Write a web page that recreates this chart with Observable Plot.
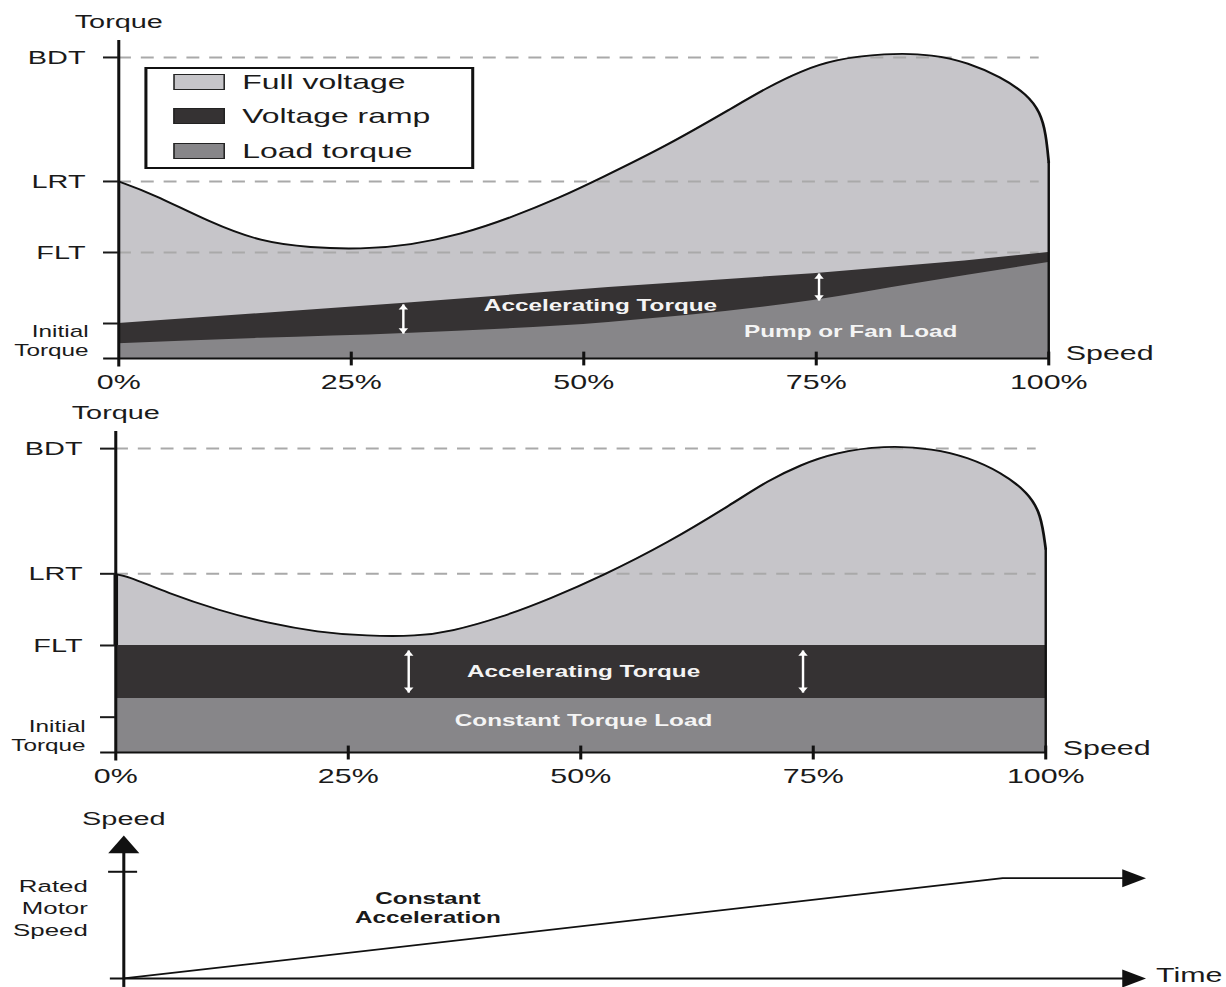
<!DOCTYPE html>
<html>
<head>
<meta charset="utf-8">
<script src="https://cdn.jsdelivr.net/npm/d3@7"></script>
<script src="https://cdn.jsdelivr.net/npm/@observablehq/plot@0.6"></script>
<style>
  html, body { margin: 0; padding: 0; background: #fff; overflow: hidden; width: 1226px; height: 987px; }
  #root { position: relative; width: 1226px; height: 987px; overflow: hidden; background: #fff; }
  .panel { position: absolute; left: 0; transform-origin: 0 0; }
  .legend { position: absolute; box-sizing: border-box; border: 2.5px solid #111; background: #fff;
            font-family: "Liberation Sans", Arial, sans-serif; color: #1a1a1a; }
  .legend .item { position: absolute; left: 0; height: 24px; width: 100%; }
  .legend .sw { position: absolute; top: 4px; height: 16px; box-sizing: border-box; border: 1.5px solid #222; }
  .legend .lbl { position: absolute; top: 0; font-size: 21px; line-height: 24px; white-space: nowrap; }
</style>
</head>
<body>
<div id="root"></div>
<script>
// ---------- data ----------
const speedTicks = [0, 25, 50, 75, 100];              // % of synchronous speed
const levelNames = ["BDT", "LRT", "FLT"];
const levelValues = [284, 167, 100];                   // torque, % of full-load torque
const initialName = "Initial\nTorque";
const initialValue = 33;

const seriesNames = ["Full voltage", "Voltage ramp", "Load torque"];
const seriesColors = ["#c6c5c9", "#353233", "#878689"];

// top panel: pump / fan load  [speed %, torque %]
const fullVoltagePump = [[0,167],[3.5,156],[9.9,128],[15.3,110],[20.6,104.5],[26,103],[31.4,107],
  [36.8,117],[42.2,133],[47.5,152],[51.8,170],[59,201],[66.1,237],[69.8,256],[73.3,271],[76.9,282],
  [82.3,288],[87.7,287],[91.3,279],[94.8,266],[97.7,249],[99.1,232],[99.7,212],[100,185]];
const voltageRampPump = [[0,33],[30.8,52],[52.7,67],[74.7,80],[91,92],[100,100]];
const loadPump = [[0,14],[15.3,19],[30.8,23.6],[52.7,34],[74.7,54.7],[85.8,70.8],[100,90.6]];
const labelsPump = [["Accelerating Torque", 51.8, 50], ["Pump or Fan Load", 78.7, 25.5]];
const arrowsPump = [[30.6, 23.6, 51], [75.3, 54.7, 80.2]];

// middle panel: constant torque load
const fullVoltageConst = [[0,166.4],[1.1,165.4],[5.6,149],[11,133],[16.3,121],[21.7,112.5],
  [27,108.8],[32.4,108.6],[36,113],[41.4,126],[46.8,144],[52.2,164.5],[59.4,196],[66.5,233.6],
  [70.1,254],[73.7,269],[77.2,280],[82.6,287],[88,284],[91.6,276],[95.2,262],[98.1,243],[99.5,223],
  [100,190]];
const voltageRampConst = [[0,100],[100,100]];
const loadConst = [[0,50.5],[100,50.5]];
const labelsConst = [["Accelerating Torque", 50.3, 75.7], ["Constant Torque Load", 50.3, 30]];
const arrowsConst = [[31.5, 56, 95.3], [73.9, 56, 95.3]];

// bottom panel: speed vs time  [time, speed %]
const timeSpeed = [[0,0],[1,94],[1.14,94]];
const ratedSpeed = 100;
const timeArrowTip = 1.163;
const speedArrowTip = 134;
const speedLabel = "Rated\nMotor\nSpeed";
const accelLabel = [["Constant\nAcceleration", 0.346, 67]];

// ---------- helpers ----------
const S = 1.52;                 // horizontal stretch of the original artwork
const W = 1226 / S;
const FONT = "'Liberation Sans', Arial, Helvetica, sans-serif";
const pts = a => a.map(([x, y]) => ({x, y}));
const nameOf = new Map(levelValues.map((v, i) => [v, levelNames[i]]));
const root = document.getElementById("root");

function mount(svg, top, height) {
  const d = document.createElement("div");
  d.className = "panel";
  d.style.top = top + "px";
  d.style.width = W + "px";
  d.style.height = height + "px";
  d.style.transform = `scaleX(${S})`;
  d.appendChild(svg);
  root.appendChild(d);
  return d;
}

function arrowMarks(arr) {
  const a = arr.map(([x, y1, y2]) => ({x, y1, y2}));
  return [
    Plot.link(a, {x1: "x", x2: "x", y1: "y1", y2: "y2", stroke: "#fff", strokeWidth: 1.6}),
    Plot.dot(a, {x: "x", y: "y2", symbol: "triangle", r: 2.3, fill: "#fff", stroke: null, dy: 3.4}),
    Plot.dot(a, {x: "x", y: "y1", symbol: "triangle", rotate: 180, r: 2.3, fill: "#fff", stroke: null, dy: -3.4})
  ];
}

function torquePanel(o) {
  const first = o.full[0], last = o.full[o.full.length - 1];
  return Plot.plot({
    width: W, height: o.height,
    marginTop: o.mt, marginBottom: o.mb, marginLeft: o.ml / S, marginRight: o.mr / S,
    x: {domain: [0, 100], axis: null},
    y: {domain: [0, 300], axis: null},
    style: {fontFamily: FONT, color: "#1a1a1a", background: "transparent", overflow: "visible"},
    marks: [
      Plot.areaY(pts(o.full), {x: "x", y: "y", fill: seriesColors[0], curve: "basis"}),
      Plot.ruleY(o.dashed, {x1: 0, x2: 99, stroke: "#a9a9a9", strokeWidth: 2, strokeDasharray: "8.5,6.5"}),
      Plot.areaY(pts(o.ramp), {x: "x", y: "y", fill: seriesColors[1], curve: "linear"}),
      Plot.areaY(pts(o.load), {x: "x", y: "y", fill: seriesColors[2], curve: "monotone-x"}),
      Plot.line(pts(o.full), {x: "x", y: "y", stroke: "#111", strokeWidth: 1.8, curve: "basis"}),
      Plot.ruleX([last[0]], {y1: 0, y2: last[1], stroke: "#111", strokeWidth: 1.6}),
      Plot.ruleX([first[0]], {y1: o.ramp[0][1], y2: first[1], stroke: "#111", strokeWidth: o.startW}),
      Plot.text(o.labels, {x: d => d[1], y: d => d[2], text: d => d[0], fill: "#f4f4f4",
        fontWeight: "bold", fontSize: 16}),
      ...arrowMarks(o.arrows),
      // axes
      Plot.ruleX([0], {y1: -8, y2: 300, stroke: "#111", strokeWidth: 2}),
      Plot.ruleY([0], {x1: -1.6, x2: 100, stroke: "#111", strokeWidth: 2}),
      Plot.ruleX(speedTicks.slice(1), {y1: -7, y2: 6, stroke: "#111", strokeWidth: 2}),
      Plot.axisY(levelValues, {anchor: "left", tickSize: 15 / S, tickPadding: 12, fontSize: 19,
        strokeWidth: 2, tickFormat: d => nameOf.get(d), label: null}),
      Plot.axisY([initialValue], {anchor: "left", tickSize: 15 / S, strokeWidth: 2,
        tickFormat: () => "", label: null}),
      Plot.text([{x: 0, y: initialValue}], {x: "x", y: "y", text: () => initialName, textAnchor: "end",
        dx: -(15 / S + 10), dy: o.initDy, fontSize: 16, lineHeight: 1.2}),
      Plot.axisX(speedTicks, {tickSize: 0, tickPadding: 16, fontSize: 20, tickFormat: d => d + "%", label: null}),
      Plot.text([{x: 0, y: 300}], {x: "x", y: "y", text: () => "Torque", dy: -19, fontSize: 19}),
      Plot.text([{x: 100, y: 0}], {x: "x", y: "y", text: () => "Speed", dx: 17 / S, dy: o.speedDy,
        textAnchor: "start", fontSize: 20})
    ]
  });
}

// ---------- top panel ----------
const p1 = torquePanel({height: 400, mt: 40, mb: 42, ml: 118, mr: 178,
  full: fullVoltagePump, ramp: voltageRampPump, load: loadPump, startW: 0,
  dashed: levelValues, labels: labelsPump, arrows: arrowsPump, initDy: 17, speedDy: -5});
const d1 = mount(p1, 0, 400);

// legend
const lg = document.createElement("div");
lg.className = "legend";
lg.style.left = (145 / S) + "px";
lg.style.top = "67px";
lg.style.width = (330 / S) + "px";
lg.style.height = "102px";
seriesNames.forEach((name, i) => {
  const it = document.createElement("div");
  it.className = "item";
  it.style.top = (0.5 + i * 34.5) + "px";
  const sw = document.createElement("div");
  sw.className = "sw";
  sw.style.left = (29 / S - 2.5) + "px";
  sw.style.width = (52 / S) + "px";
  sw.style.background = seriesColors[i];
  const tx = document.createElement("div");
  tx.className = "lbl";
  tx.style.left = (98 / S - 2.5) + "px";
  tx.textContent = name;
  it.appendChild(sw); it.appendChild(tx);
  lg.appendChild(it);
});
d1.appendChild(lg);

// ---------- middle panel ----------
const p2 = torquePanel({height: 400, mt: 39, mb: 40, ml: 115, mr: 181,
  full: fullVoltageConst, ramp: voltageRampConst, load: loadConst, startW: 3,
  dashed: levelValues.slice(0, 2), labels: labelsConst, arrows: arrowsConst, initDy: 18, speedDy: -4});
mount(p2, 392, 400);

// ---------- bottom panel ----------
const p3 = Plot.plot({
  width: W, height: 187,
  marginTop: 35, marginBottom: 9, marginLeft: 123 / S, marginRight: 48.2 / S,
  x: {domain: [0, 1.2], axis: null},
  y: {domain: [0, speedArrowTip], axis: null},
  style: {fontFamily: FONT, color: "#1a1a1a", background: "transparent", overflow: "visible"},
  marks: [
    Plot.ruleX([0], {y1: -8.4, y2: speedArrowTip - 8, stroke: "#111", strokeWidth: 2}),
    Plot.dot([{x: 0, y: speedArrowTip}], {x: "x", y: "y", symbol: "triangle", r: 7.6, fill: "#111", stroke: null, dy: 11.8}),
    Plot.ruleY([0], {x1: -0.015, x2: timeArrowTip - 0.012, stroke: "#111", strokeWidth: 2}),
    Plot.dot([{x: timeArrowTip, y: 0}], {x: "x", y: "y", symbol: "triangle", rotate: 90, r: 6.7, fill: "#111", stroke: null, dx: -10.4}),
    Plot.ruleY([ratedSpeed], {x1: -0.017, x2: 0.016, stroke: "#111", strokeWidth: 2}),
    Plot.line(pts(timeSpeed), {x: "x", y: "y", stroke: "#111", strokeWidth: 1.8}),
    Plot.dot([{x: timeArrowTip, y: timeSpeed[timeSpeed.length - 1][1]}], {x: "x", y: "y", symbol: "triangle",
      rotate: 90, r: 6.7, fill: "#111", stroke: null, dx: -10.4}),
    Plot.text(accelLabel, {x: d => d[1], y: d => d[2], text: d => d[0], fontWeight: "bold", fontSize: 16, lineHeight: 1.19}),
    Plot.text([{x: 0, y: 67}], {x: "x", y: "y", text: () => speedLabel, textAnchor: "end", dx: -36 / S,
      fontSize: 17, lineHeight: 1.3}),
    Plot.text([{x: 0, y: speedArrowTip}], {x: "x", y: "y", text: () => "Speed", dy: -17, fontSize: 19}),
    Plot.text([{x: timeArrowTip, y: 0}], {x: "x", y: "y", text: () => "Time", dx: 10 / S, dy: -3,
      textAnchor: "start", fontSize: 20})
  ]
});
mount(p3, 800, 187);
</script>
</body>
</html>
